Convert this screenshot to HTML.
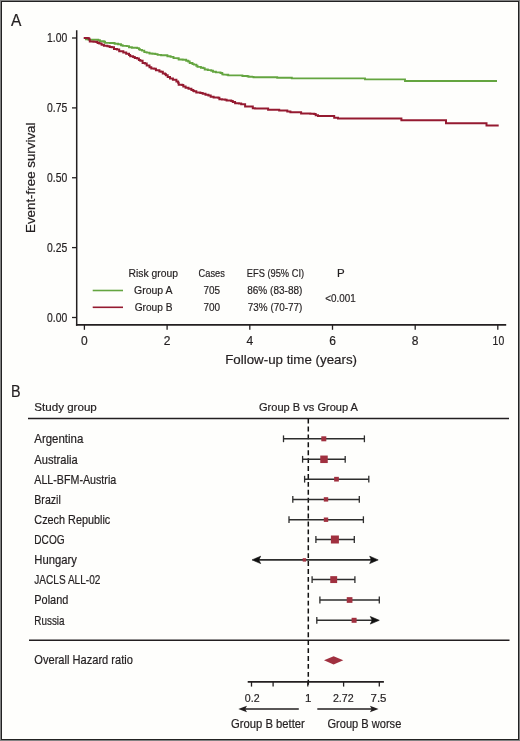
<!DOCTYPE html>
<html><head><meta charset="utf-8"><title>Figure</title><style>
html,body{margin:0;padding:0;background:#fefefc;overflow:hidden;}
svg{display:block;will-change:transform;}
text{font-family:"Liberation Sans",sans-serif;fill:#231f20;stroke:#231f20;stroke-width:0.2px;}
</style></head><body>
<svg width="520" height="741" viewBox="0 0 520 741">
<rect x="0" y="0" width="520" height="741" fill="#fefefc"/>
<rect x="0.5" y="0.5" width="519" height="740" fill="none" stroke="#828282" stroke-width="1"/>
<rect x="1.5" y="1.5" width="517" height="738" fill="none" stroke="#222222" stroke-width="1"/>
<text x="10.9" y="25.8" font-size="16.9" textLength="10.4" lengthAdjust="spacingAndGlyphs">A</text>
<g stroke="#231f20" fill="none">
<line x1="76.7" y1="30.2" x2="76.7" y2="325.8" stroke-width="1.5"/>
<line x1="75.95" y1="324.9" x2="506.2" y2="324.9" stroke-width="1.8"/>
<line x1="72" y1="38" x2="76" y2="38" stroke-width="1.3"/>
<line x1="72" y1="107.9" x2="76" y2="107.9" stroke-width="1.3"/>
<line x1="72" y1="177.75" x2="76" y2="177.75" stroke-width="1.3"/>
<line x1="72" y1="247.6" x2="76" y2="247.6" stroke-width="1.3"/>
<line x1="72" y1="317.5" x2="76" y2="317.5" stroke-width="1.3"/>
<line x1="84.4" y1="325" x2="84.4" y2="329.8" stroke-width="1.3"/>
<line x1="167.1" y1="325" x2="167.1" y2="329.8" stroke-width="1.3"/>
<line x1="249.8" y1="325" x2="249.8" y2="329.8" stroke-width="1.3"/>
<line x1="332.5" y1="325" x2="332.5" y2="329.8" stroke-width="1.3"/>
<line x1="415.2" y1="325" x2="415.2" y2="329.8" stroke-width="1.3"/>
<line x1="497.8" y1="325" x2="497.8" y2="329.8" stroke-width="1.3"/>
</g>
<text x="67.3" y="42.2" font-size="12.4" text-anchor="end" textLength="20.2" lengthAdjust="spacingAndGlyphs">1.00</text>
<text x="67.3" y="112.1" font-size="12.4" text-anchor="end" textLength="20.2" lengthAdjust="spacingAndGlyphs">0.75</text>
<text x="67.3" y="181.95" font-size="12.4" text-anchor="end" textLength="20.2" lengthAdjust="spacingAndGlyphs">0.50</text>
<text x="67.3" y="251.8" font-size="12.4" text-anchor="end" textLength="20.2" lengthAdjust="spacingAndGlyphs">0.25</text>
<text x="67.3" y="321.7" font-size="12.4" text-anchor="end" textLength="20.2" lengthAdjust="spacingAndGlyphs">0.00</text>
<text x="84.4" y="345" font-size="12" text-anchor="middle">0</text>
<text x="167.1" y="345" font-size="12" text-anchor="middle">2</text>
<text x="249.8" y="345" font-size="12" text-anchor="middle">4</text>
<text x="332.5" y="345" font-size="12" text-anchor="middle">6</text>
<text x="415.2" y="345" font-size="12" text-anchor="middle">8</text>
<text x="498.4" y="345" font-size="12" text-anchor="middle" textLength="11.6" lengthAdjust="spacingAndGlyphs">10</text>
<text x="225.2" y="363.9" font-size="13.1" textLength="131.8" lengthAdjust="spacingAndGlyphs">Follow-up time (years)</text>
<text transform="translate(35.4,233.0) rotate(-90)" font-size="13.4" textLength="110.5" lengthAdjust="spacingAndGlyphs">Event-free survival</text>
<polyline points="84.00,38.00 86.00,38.00 86.00,39.20 88.10,39.20 88.10,39.60 91.20,39.60 91.20,39.80 98.20,39.80 98.20,40.10 99.90,40.10 99.90,41.20 103.90,41.20 103.90,41.80 105.10,41.80 105.10,42.90 110.00,42.90 110.00,43.00 112.90,43.00 114.60,43.00 114.60,43.75 118.10,43.75 118.10,44.30 121.00,44.30 121.00,45.20 122.70,45.20 122.70,45.90 126.70,45.90 126.70,46.10 129.00,46.10 129.00,47.20 131.90,47.20 131.90,47.80 137.10,47.80 137.10,48.10 138.90,48.10 138.90,49.20 140.00,49.20 140.00,49.90 142.00,49.90 142.00,50.60 144.30,50.60 144.30,52.10 146.70,52.10 146.70,52.60 149.50,52.60 149.50,53.50 152.40,53.50 152.40,53.80 155.30,53.80 155.30,54.10 157.60,54.10 157.60,54.90 161.10,54.90 161.10,55.30 165.70,55.30 167.40,55.30 167.40,56.20 170.60,56.20 170.60,56.90 173.50,56.90 173.50,58.10 177.50,58.10 177.50,58.30 178.70,58.30 178.70,59.50 182.70,59.50 182.70,59.80 186.20,59.80 186.20,60.70 188.20,60.70 188.20,61.50 189.70,61.50 189.70,63.00 192.50,63.00 192.50,64.10 194.00,64.10 194.00,64.60 196.30,64.60 196.30,65.80 197.50,65.80 197.50,66.90 200.90,66.90 200.90,67.80 203.20,67.80 203.20,68.10 204.70,68.10 204.70,69.50 207.80,69.50 207.80,70.10 211.30,70.10 211.30,70.70 213.00,70.70 213.00,71.80 215.90,71.80 215.90,72.40 220.50,72.40 220.50,73.00 222.30,73.00 222.30,74.40 223.50,74.40 223.50,74.60 226.60,74.60 226.60,74.80 228.20,74.80 228.20,75.40 241.20,75.40 242.40,75.40 242.40,76.00 247.40,76.00 247.40,76.20 248.50,76.20 248.50,76.80 252.00,76.80 252.00,76.90 253.50,76.90 253.50,77.20 276.80,77.20 277.20,77.20 277.20,77.80 291.10,77.80 291.80,77.80 291.80,78.40 363.80,78.40 365.00,78.40 365.00,79.40 404.00,79.40 405.00,79.40 405.00,81.00 497.00,81.00" fill="none" stroke="#64a540" stroke-width="1.9" stroke-linejoin="miter"/>
<polyline points="83.70,38.00 87.80,38.00 87.80,38.20 89.20,38.20 89.20,39.50 89.80,39.50 89.80,41.50 93.50,41.50 93.50,41.80 96.40,41.80 96.40,42.10 97.60,42.10 97.60,43.10 99.30,43.10 99.30,43.50 101.60,43.50 101.60,44.70 103.90,44.70 103.90,45.80 107.40,45.80 107.40,46.20 109.70,46.20 109.70,47.00 111.70,47.00 111.70,47.20 114.00,47.20 114.00,48.90 116.90,48.90 116.90,49.50 119.20,49.50 119.20,51.25 123.30,51.25 123.30,52.40 126.20,52.40 126.20,53.80 129.00,53.80 129.00,55.00 130.20,55.00 130.20,56.20 133.10,56.20 133.10,57.00 134.80,57.00 134.80,57.90 137.10,57.90 137.10,58.50 138.90,58.50 138.90,59.90 140.30,59.90 140.30,60.70 142.60,60.70 142.60,63.00 144.90,63.00 144.90,63.60 146.70,63.60 146.70,65.60 149.50,65.60 149.50,67.30 151.30,67.30 151.30,68.50 154.20,68.50 154.20,68.80 155.90,68.80 155.90,70.20 159.40,70.20 159.40,71.40 161.10,71.40 161.10,71.70 162.80,71.70 162.80,73.40 165.10,73.40 165.10,74.30 166.00,74.30 166.00,75.20 167.70,75.20 167.70,77.00 170.00,77.00 170.00,78.40 172.90,78.40 172.90,79.80 176.40,79.80 176.40,81.50 178.10,81.50 178.10,82.70 178.70,82.70 178.70,84.70 182.20,84.70 182.20,85.00 183.30,85.00 183.30,86.40 185.60,86.40 185.60,87.80 188.50,87.80 188.50,88.70 191.40,88.70 191.40,89.90 193.10,89.90 193.10,90.70 194.00,90.70 194.00,91.20 196.30,91.20 196.30,92.40 200.30,92.40 200.30,92.90 202.70,92.90 202.70,93.80 205.50,93.80 205.50,94.70 208.40,94.70 208.40,95.50 210.70,95.50 210.70,96.70 213.60,96.70 213.60,97.60 218.20,97.60 218.20,97.80 219.40,97.80 219.40,99.30 222.00,99.30 222.00,99.50 225.10,99.50 225.10,99.70 226.60,99.70 226.60,100.60 231.20,100.60 231.20,101.00 232.80,101.00 232.80,102.00 235.10,102.00 235.10,103.20 238.90,103.20 238.90,103.50 241.20,103.50 241.20,104.30 243.90,104.30 245.10,104.30 245.10,106.60 250.50,106.60 252.80,106.60 252.80,108.20 255.10,108.20 255.10,108.50 267.30,108.50 267.30,108.60 268.10,108.60 268.10,109.80 278.50,109.80 279.20,109.80 279.20,110.40 285.40,110.40 287.30,110.40 287.30,111.40 289.20,111.40 289.20,111.50 290.40,111.50 290.40,112.20 300.30,112.20 301.10,112.20 301.10,113.40 308.00,113.40 310.30,113.40 310.30,113.80 314.20,113.80 314.20,114.00 315.70,114.00 315.70,115.20 318.00,115.20 318.00,115.90 331.80,115.90 334.20,115.90 334.20,117.70 338.00,117.70 338.00,118.40 401.20,118.40 401.20,118.60 401.40,118.60 401.40,120.20 444.50,120.20 446.00,120.20 446.00,123.30 486.40,123.30 486.50,123.30 486.50,125.40 498.70,125.40" fill="none" stroke="#951a30" stroke-width="2" stroke-linejoin="miter"/>
<line x1="92.7" y1="290.5" x2="123" y2="290.5" stroke="#64a540" stroke-width="1.6"/>
<line x1="92.7" y1="307.3" x2="123" y2="307.3" stroke="#951a30" stroke-width="1.6"/>
<text x="153.3" y="276.9" font-size="11.5" text-anchor="middle" textLength="49.5" lengthAdjust="spacingAndGlyphs">Risk group</text>
<text x="153.3" y="294.3" font-size="11.5" text-anchor="middle" textLength="38.5" lengthAdjust="spacingAndGlyphs">Group A</text>
<text x="153.6" y="311" font-size="11.5" text-anchor="middle" textLength="37.8" lengthAdjust="spacingAndGlyphs">Group B</text>
<text x="211.7" y="277.3" font-size="11.5" text-anchor="middle" textLength="26.2" lengthAdjust="spacingAndGlyphs">Cases</text>
<text x="211.7" y="294.0" font-size="11.5" text-anchor="middle" textLength="16.6" lengthAdjust="spacingAndGlyphs">705</text>
<text x="211.7" y="311" font-size="11.5" text-anchor="middle" textLength="16.6" lengthAdjust="spacingAndGlyphs">700</text>
<text x="246.8" y="277.1" font-size="11.5" textLength="57.3" lengthAdjust="spacingAndGlyphs">EFS (95% CI)</text>
<text x="247.2" y="294.2" font-size="11.5" textLength="55.2" lengthAdjust="spacingAndGlyphs">86% (83-88)</text>
<text x="247.8" y="311" font-size="11.5" textLength="54.6" lengthAdjust="spacingAndGlyphs">73% (70-77)</text>
<text x="340.8" y="277.0" font-size="11.5" text-anchor="middle">P</text>
<text x="325.3" y="302.0" font-size="11.5" textLength="30.4" lengthAdjust="spacingAndGlyphs">&lt;0.001</text>
<text x="10.9" y="397.0" font-size="16.9" textLength="9.6" lengthAdjust="spacingAndGlyphs">B</text>
<text x="34.3" y="410.9" font-size="11.3" textLength="62.5" lengthAdjust="spacingAndGlyphs">Study group</text>
<text x="259.0" y="411.3" font-size="11.3" textLength="99.0" lengthAdjust="spacingAndGlyphs">Group B vs Group A</text>
<line x1="28" y1="418.6" x2="509" y2="418.6" stroke="#231f20" stroke-width="1.5"/>
<line x1="29" y1="640.2" x2="509.5" y2="640.2" stroke="#231f20" stroke-width="1.5"/>
<line x1="308.3" y1="418.6" x2="308.3" y2="687" stroke="#111" stroke-width="1.5" stroke-dasharray="4.9,3.015"/>
<text x="34.3" y="443.1" font-size="11.9" textLength="49.0" lengthAdjust="spacingAndGlyphs">Argentina</text>
<line x1="283.5" y1="438.8" x2="364.4" y2="438.8" stroke="#2d2d2d" stroke-width="1.5"/>
<line x1="283.5" y1="435.40000000000003" x2="283.5" y2="442.2" stroke="#2d2d2d" stroke-width="1.3"/>
<line x1="364.4" y1="435.40000000000003" x2="364.4" y2="442.2" stroke="#2d2d2d" stroke-width="1.3"/>
<rect x="321.3" y="436.3" width="5.0" height="5.0" fill="#a0303f"/>
<text x="34.3" y="463.6" font-size="11.9" textLength="43.3" lengthAdjust="spacingAndGlyphs">Australia</text>
<line x1="302.6" y1="459.3" x2="345.2" y2="459.3" stroke="#2d2d2d" stroke-width="1.5"/>
<line x1="302.6" y1="455.90000000000003" x2="302.6" y2="462.7" stroke="#2d2d2d" stroke-width="1.3"/>
<line x1="345.2" y1="455.90000000000003" x2="345.2" y2="462.7" stroke="#2d2d2d" stroke-width="1.3"/>
<rect x="320.25" y="455.55" width="7.5" height="7.5" fill="#a0303f"/>
<text x="34.3" y="483.5" font-size="11.9" textLength="81.9" lengthAdjust="spacingAndGlyphs">ALL-BFM-Austria</text>
<line x1="304.6" y1="479.2" x2="368.8" y2="479.2" stroke="#2d2d2d" stroke-width="1.5"/>
<line x1="304.6" y1="475.8" x2="304.6" y2="482.59999999999997" stroke="#2d2d2d" stroke-width="1.3"/>
<line x1="368.8" y1="475.8" x2="368.8" y2="482.59999999999997" stroke="#2d2d2d" stroke-width="1.3"/>
<rect x="334.15" y="476.85" width="4.7" height="4.7" fill="#a0303f"/>
<text x="34.3" y="503.7" font-size="11.9" textLength="26.5" lengthAdjust="spacingAndGlyphs">Brazil</text>
<line x1="292.8" y1="499.4" x2="359.3" y2="499.4" stroke="#2d2d2d" stroke-width="1.5"/>
<line x1="292.8" y1="496.0" x2="292.8" y2="502.79999999999995" stroke="#2d2d2d" stroke-width="1.3"/>
<line x1="359.3" y1="496.0" x2="359.3" y2="502.79999999999995" stroke="#2d2d2d" stroke-width="1.3"/>
<rect x="323.8" y="497.2" width="4.4" height="4.4" fill="#a0303f"/>
<text x="34.3" y="524.0" font-size="11.9" textLength="76.0" lengthAdjust="spacingAndGlyphs">Czech Republic</text>
<line x1="289.0" y1="519.7" x2="363.4" y2="519.7" stroke="#2d2d2d" stroke-width="1.5"/>
<line x1="289.0" y1="516.3000000000001" x2="289.0" y2="523.1" stroke="#2d2d2d" stroke-width="1.3"/>
<line x1="363.4" y1="516.3000000000001" x2="363.4" y2="523.1" stroke="#2d2d2d" stroke-width="1.3"/>
<rect x="323.8" y="517.5" width="4.4" height="4.4" fill="#a0303f"/>
<text x="34.3" y="543.8" font-size="11.9" textLength="30.3" lengthAdjust="spacingAndGlyphs">DCOG</text>
<line x1="315.9" y1="539.5" x2="354.3" y2="539.5" stroke="#2d2d2d" stroke-width="1.5"/>
<line x1="315.9" y1="536.1" x2="315.9" y2="542.9" stroke="#2d2d2d" stroke-width="1.3"/>
<line x1="354.3" y1="536.1" x2="354.3" y2="542.9" stroke="#2d2d2d" stroke-width="1.3"/>
<rect x="330.9" y="535.5" width="8.0" height="8.0" fill="#a0303f"/>
<text x="34.3" y="564.2" font-size="11.9" textLength="42.5" lengthAdjust="spacingAndGlyphs">Hungary</text>
<line x1="258" y1="559.9" x2="372" y2="559.9" stroke="#2d2d2d" stroke-width="1.6"/>
<path d="M252,559.9 L260.7,556.1999999999999 L258.8,559.9 L260.7,563.6 Z" fill="#111" stroke="#111" stroke-width="0.6" stroke-linejoin="miter"/>
<path d="M378.2,559.9 L369.7,556.1999999999999 L371.4,559.9 L369.7,563.6 Z" fill="#111" stroke="#111" stroke-width="0.6" stroke-linejoin="miter"/>
<rect x="302.7" y="558.2" width="3.4" height="3.4" fill="#a0303f"/>
<text x="34.3" y="583.9" font-size="11.9" textLength="66.1" lengthAdjust="spacingAndGlyphs">JACLS ALL-02</text>
<line x1="312.1" y1="579.6" x2="354.9" y2="579.6" stroke="#2d2d2d" stroke-width="1.5"/>
<line x1="312.1" y1="576.2" x2="312.1" y2="583.0" stroke="#2d2d2d" stroke-width="1.3"/>
<line x1="354.9" y1="576.2" x2="354.9" y2="583.0" stroke="#2d2d2d" stroke-width="1.3"/>
<rect x="330.25" y="576.15" width="6.9" height="6.9" fill="#a0303f"/>
<text x="34.3" y="604.3" font-size="11.9" textLength="34.0" lengthAdjust="spacingAndGlyphs">Poland</text>
<line x1="319.9" y1="600.0" x2="379.3" y2="600.0" stroke="#2d2d2d" stroke-width="1.5"/>
<line x1="319.9" y1="596.6" x2="319.9" y2="603.4" stroke="#2d2d2d" stroke-width="1.3"/>
<line x1="379.3" y1="596.6" x2="379.3" y2="603.4" stroke="#2d2d2d" stroke-width="1.3"/>
<rect x="346.75" y="597.15" width="5.7" height="5.7" fill="#a0303f"/>
<text x="34.3" y="624.6" font-size="11.9" textLength="30.3" lengthAdjust="spacingAndGlyphs">Russia</text>
<line x1="316.8" y1="620.3" x2="373" y2="620.3" stroke="#2d2d2d" stroke-width="1.5"/>
<line x1="316.8" y1="616.9" x2="316.8" y2="623.6999999999999" stroke="#2d2d2d" stroke-width="1.3"/>
<path d="M379.3,620.3 L370.3,616.5 L372.2,620.3 L370.3,624.0999999999999 Z" fill="#111" stroke="#111" stroke-width="0.6"/>
<rect x="351.6" y="617.8" width="5.0" height="5.0" fill="#a0303f"/>
<text x="34.3" y="664.3" font-size="11.9" textLength="98.6" lengthAdjust="spacingAndGlyphs">Overall Hazard ratio</text>
<path d="M324,660.3 L333.6,656.2 L343.3,660.3 L333.6,664.6 Z" fill="#a0303f"/>
<g stroke="#231f20" fill="none">
<line x1="247.7" y1="681.9" x2="383.9" y2="681.9" stroke-width="1.6"/>
<line x1="251.5" y1="681.9" x2="251.5" y2="686.6" stroke-width="1.3"/>
<line x1="273.1" y1="681.9" x2="273.1" y2="686.6" stroke-width="1.3"/>
<line x1="307.8" y1="681.9" x2="307.8" y2="686.6" stroke-width="1.3"/>
<line x1="343.6" y1="681.9" x2="343.6" y2="686.6" stroke-width="1.3"/>
<line x1="379.3" y1="681.9" x2="379.3" y2="686.6" stroke-width="1.3"/>
<line x1="244" y1="709" x2="298.8" y2="709" stroke-width="1.4"/>
<line x1="317.3" y1="709" x2="372" y2="709" stroke-width="1.4"/>
</g>
<path d="M238.3,709 L247,705.8 L245.2,709 L247,712.2 Z" fill="#231f20"/>
<path d="M378.6,709 L369.9,705.8 L371.7,709 L369.9,712.2 Z" fill="#231f20"/>
<text x="252.2" y="701.8" font-size="11.5" text-anchor="middle" textLength="14.8" lengthAdjust="spacingAndGlyphs">0.2</text>
<text x="308.3" y="701.8" font-size="11.5" text-anchor="middle">1</text>
<text x="343.3" y="701.8" font-size="11.5" text-anchor="middle" textLength="20.8" lengthAdjust="spacingAndGlyphs">2.72</text>
<text x="378.5" y="701.8" font-size="11.5" text-anchor="middle" textLength="16.0" lengthAdjust="spacingAndGlyphs">7.5</text>
<text x="231.0" y="727.6" font-size="11.9" textLength="73.8" lengthAdjust="spacingAndGlyphs">Group B better</text>
<text x="327.5" y="727.6" font-size="11.9" textLength="73.8" lengthAdjust="spacingAndGlyphs">Group B worse</text>
</svg>
</body></html>
